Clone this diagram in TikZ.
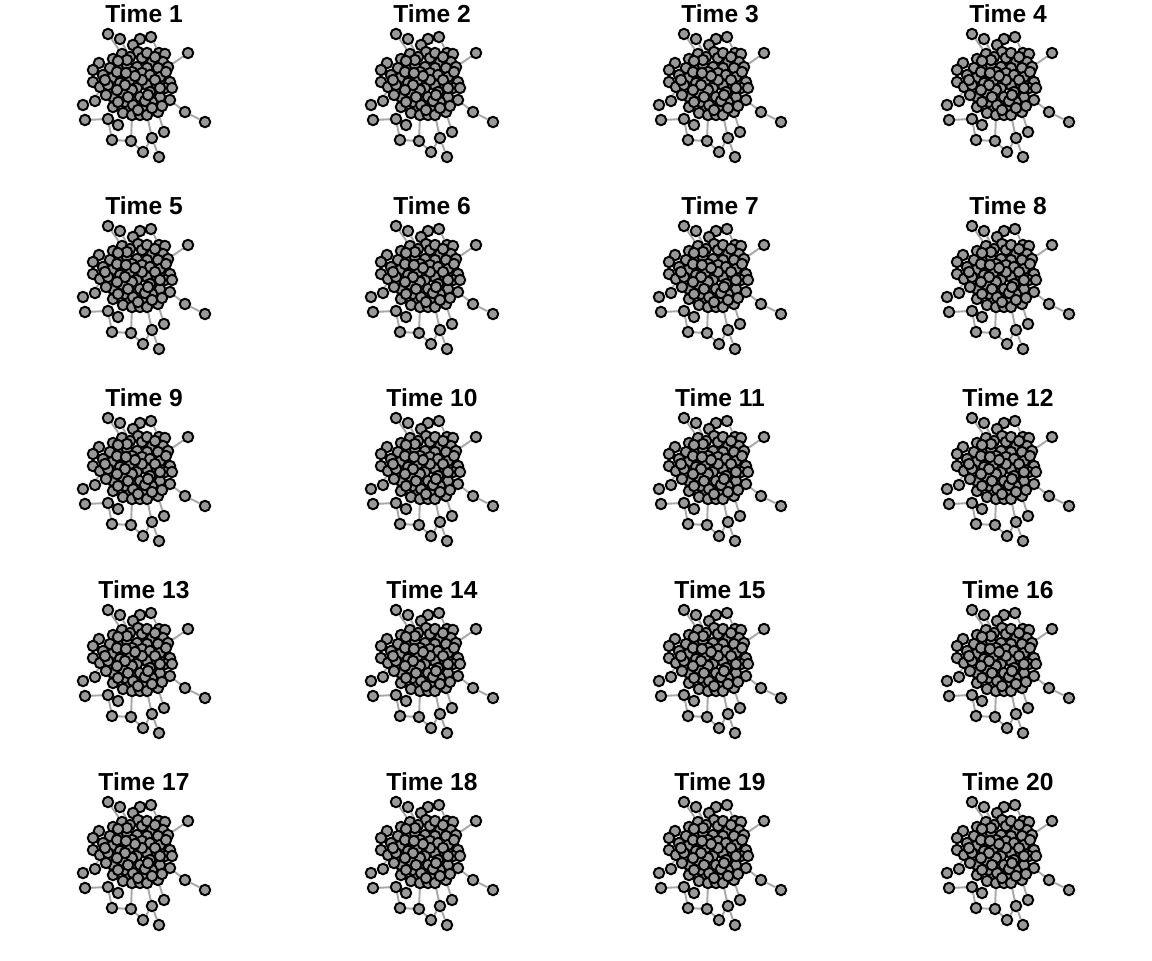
\documentclass[tikz,border=0pt]{standalone}
\usepackage{fontspec}
\setmainfont{Liberation Sans}
\usetikzlibrary{backgrounds}
\definecolor{vfill}{HTML}{999999}
\definecolor{efill}{HTML}{A8A8A8}

% vertex positions of one panel (pixels, panel 1)
\def\vlist{1/108/34, 2/120/39, 3/140/39, 4/151/37, 5/133/45, 6/188/53,
  7/83/105, 8/95/101, 9/85/120, 10/108/119, 11/118/125, 12/112/140,
  13/131/141, 14/143/152, 15/159/157, 16/152/138, 17/164/132, 18/158/112,
  19/185/112, 20/205/122, 21/93/82, 22/99/63, 23/93/70,
  24/138/52, 25/122/54, 26/113/59, 27/159/53, 28/165/54, 29/130/57,
  30/142/58, 31/152/62, 32/163/62, 33/168/67, 34/110/68, 35/120/67,
  36/127/65, 37/137/67, 38/147/68, 39/158/68, 40/103/75, 41/112/78,
  42/122/77, 43/132/72, 44/142/73, 45/150/75, 46/160/77, 47/170/82,
  48/100/87, 49/108/85, 50/120/83, 51/130/80, 52/137/88, 53/147/85,
  54/157/85, 55/165/88, 56/172/88, 57/113/97, 58/123/93, 59/132/90,
  60/140/97, 61/150/92, 62/160/97, 63/170/100, 64/113/107, 65/125/102,
  66/133/105, 67/143/107, 68/152/102, 69/123/113, 70/132/115, 71/140/115,
  72/147/115, 73/142/80, 74/125/85, 75/117/90, 76/127/60, 77/147/53,
  78/155/57, 79/117/72, 80/135/76, 81/155/80, 82/106/95, 83/128/97,
  84/145/101, 85/162/106, 86/118/102, 87/138/110, 88/152/108, 89/166/72,
  90/126/73, 91/148/95, 92/160/88, 93/105/80, 94/118/61}

% edges
\def\elist{1/25, 2/29, 3/24, 4/27, 5/24, 6/33, 7/8, 8/48, 9/10, 10/12,
  12/13, 13/70, 13/14, 14/16, 15/16, 16/72, 17/18, 18/85, 19/20, 19/63,
  11/69, 21/40, 22/34, 23/40,
  24/30, 25/29, 26/34, 27/31, 28/32, 29/36, 30/37, 31/38, 32/39, 33/47,
  34/41, 35/42, 36/43, 37/44, 38/45, 39/46, 40/41, 41/50, 42/51, 43/52,
  44/53, 45/54, 46/55, 47/56, 48/49, 49/57, 50/58, 51/59, 52/60, 53/61,
  54/62, 55/63, 56/63, 57/64, 58/65, 59/66, 60/67, 61/68, 62/68, 64/69,
  65/70, 66/71, 67/72, 73/80, 74/59, 75/58, 76/24, 77/27, 78/31, 79/35,
  80/73, 81/54, 82/48, 83/66, 84/67, 85/62, 86/65, 87/71, 88/68, 89/33,
  90/43, 91/84, 92/55, 93/40, 94/26, 25/43, 41/60, 45/65, 35/53, 50/67,
  42/61, 29/51}

\tikzset{
  vtx/.style={circle, draw=black, fill=vfill, line width=1.1pt, minimum size=0.21cm, inner sep=0pt},
  edge/.style={efill, line width=1.1pt},
  ttl/.style={font=\bfseries\fontsize{14}{16}\selectfont, inner sep=0pt}
}

\begin{document}
\begin{tikzpicture}[x=0.02cm, y=-0.02cm]
  \useasboundingbox (0,0) rectangle (1152,960);
  \foreach \k in {1,...,20} {
    \pgfmathtruncatemacro\col{mod(\k-1,4)}
    \pgfmathtruncatemacro\row{div(\k-1,4)}
    \begin{scope}[shift={(\col*288,\row*192)}]
      % title
      \node[ttl] (title\k) at (144,14) {Time \k};
      % vertices
      \foreach \i/\x/\y in \vlist {
        \node[vtx] (n\k-\i) at (\x,\y) {};
      }
      % edges behind vertices
      \begin{pgfonlayer}{background}
        \foreach \a/\b in \elist {
          \draw[edge] (n\k-\a) -- (n\k-\b);
        }
      \end{pgfonlayer}
    \end{scope}
  }
\end{tikzpicture}
\end{document}
